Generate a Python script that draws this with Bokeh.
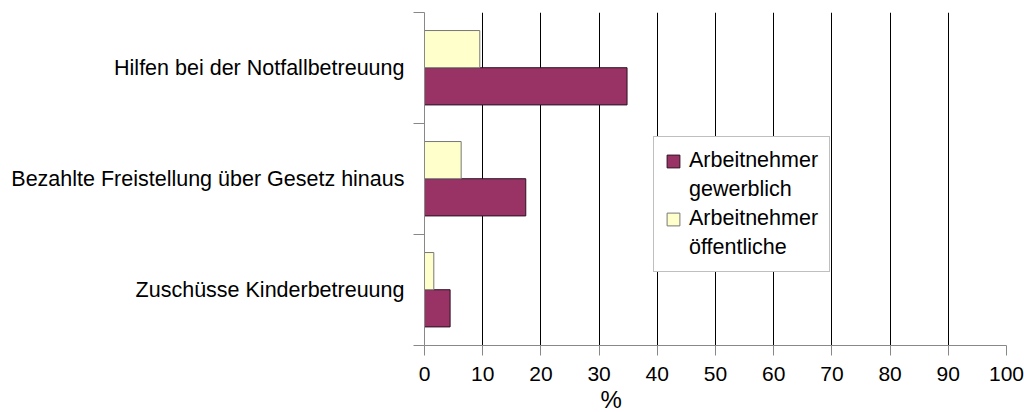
from bokeh.plotting import figure
from bokeh.models import ColumnDataSource, FixedTicker, Legend, LegendItem, Range1d, Title
from bokeh.transform import dodge
from bokeh.embed import file_html
from bokeh.resources import INLINE

# ---- data ----
categories = ["Zuschüsse Kinderbetreuung",
              "Bezahlte Freistellung über Gesetz hinaus",
              "Hilfen bei der Notfallbetreuung"]
gewerblich = [4.4, 17.4, 34.8]
oeffentlich = [1.6, 6.3, 9.5]
series_lines = [["Arbeitnehmer", "gewerblich"], ["Arbeitnehmer", "öffentliche"]]
x_ticks = [0, 10, 20, 30, 40, 50, 60, 70, 80, 90, 100]
axis_title = "%"

FONT = "Liberation Sans"

centers = [i + 0.5 for i in range(len(categories))]
bounds = list(range(len(categories) + 1))
src = ColumnDataSource(dict(y=centers, gew=gewerblich, oef=oeffentlich))

p = figure(width=1024, height=412, x_range=Range1d(0, 100), y_range=Range1d(0, len(categories)),
           output_backend="svg", toolbar_location=None,
           min_border_left=424, min_border_right=18, min_border_top=12, min_border_bottom=0)
p.outline_line_color = None
p.background_fill_color = "white"

r_gew = p.hbar(y=dodge("y", -0.165, range=p.y_range), right="gew", left=0, height=0.335, source=src,
               fill_color="#993366", line_color="#2a1020", line_width=1)
r_oef = p.hbar(y=dodge("y", 0.17, range=p.y_range), right="oef", left=0, height=0.335, source=src,
               fill_color="#FFFFCC", line_color="#777777", line_width=1)
# empty renderer used only for the second line of each legend entry
r_blank = p.hbar(y=[], right=[], left=0, height=0.3, fill_alpha=0, line_alpha=0)

# grid
p.ygrid.visible = False
p.xgrid.ticker = FixedTicker(ticks=x_ticks[1:])
p.xgrid.grid_line_color = "black"
p.xgrid.grid_line_width = 1

# x axis
xa = p.xaxis[0]
xa.ticker = FixedTicker(ticks=x_ticks)
xa.axis_line_color = "#888888"
xa.major_tick_line_color = "#888888"
xa.major_tick_out = 10
xa.major_tick_in = 0
xa.minor_tick_line_color = None
xa.major_label_text_font = FONT
xa.major_label_text_font_size = "21px"
xa.major_label_text_color = "black"
xa.major_label_standoff = 11

# y axis
ya = p.yaxis[0]
ya.ticker = FixedTicker(ticks=centers, minor_ticks=bounds)
ya.major_label_overrides = {c: lab for c, lab in zip(centers, categories)}
ya.axis_line_color = "#888888"
ya.major_tick_line_color = None
ya.major_tick_out = 0
ya.major_tick_in = 0
ya.minor_tick_line_color = "#888888"
ya.minor_tick_out = 11
ya.minor_tick_in = 0
ya.major_label_text_font = FONT
ya.major_label_text_font_size = "21.5px"
ya.major_label_text_color = "black"
ya.major_label_standoff = 9

# axis title under the x axis
p.add_layout(Title(text=axis_title, align="left", offset=176, standoff=0,
                   text_font=FONT, text_font_size="24px", text_font_style="normal",
                   text_line_height=0.7, text_color="black"), "below")

legend = Legend(items=[LegendItem(label=series_lines[0][0], renderers=[r_gew]),
                       LegendItem(label=series_lines[0][1], renderers=[r_blank]),
                       LegendItem(label=series_lines[1][0], renderers=[r_oef]),
                       LegendItem(label=series_lines[1][1], renderers=[r_blank])],
                location=(229, 73), orientation="vertical")
legend.border_line_color = "#808080"
legend.border_line_width = 1
legend.background_fill_color = "white"
legend.background_fill_alpha = 1
legend.label_text_font = FONT
legend.label_text_font_size = "21.5px"
legend.label_text_color = "black"
legend.glyph_width = 16
legend.glyph_height = 16
legend.label_standoff = 8
legend.padding = 11
legend.spacing = 4
legend.margin = 0
p.add_layout(legend)

open("out.html", "w").write(file_html(p, INLINE))
